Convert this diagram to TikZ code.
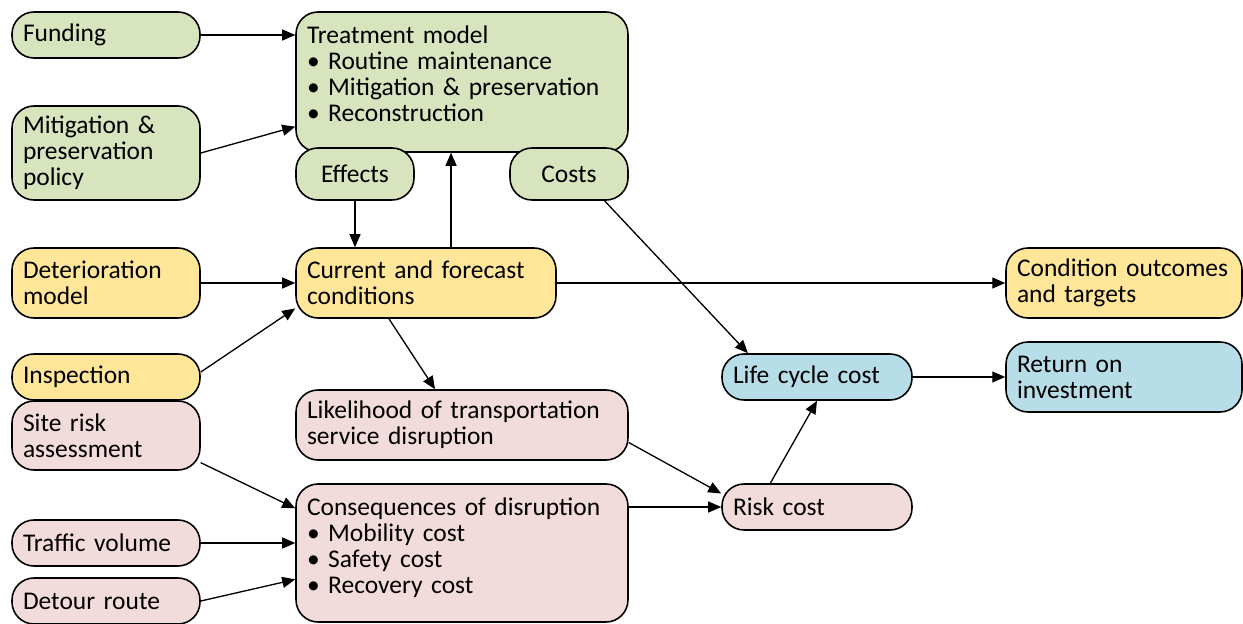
\documentclass[tikz,border=0pt]{standalone}
\usepackage{fontspec}
\setmainfont{Carlito}
\usetikzlibrary{arrows.meta,positioning}
\definecolor{boxgreen}{HTML}{D7E4BD}
\definecolor{boxyellow}{HTML}{FFE699}
\definecolor{boxpink}{HTML}{F2DCDB}
\definecolor{boxblue}{HTML}{B7DEE8}
\tikzset{box/.style={rectangle,rounded corners=0.44cm,draw,line width=0.9pt,align=left,inner xsep=0.22cm,font=\fontsize{14.5}{14.8}\selectfont},
         green box/.style={box,fill=boxgreen},
         yellow box/.style={box,fill=boxyellow},
         pink box/.style={box,fill=boxpink},
         blue box/.style={box,fill=boxblue},
         top box/.style={inner ysep=0.26cm,text height=0.36cm,text depth=#1},
         link/.style={->,line width=0.75pt}
}
\begin{document}
\begin{tikzpicture}[x=0.02cm,y=-0.02cm,
>={Triangle[length=2.6mm,width=2.2mm]}]
\useasboundingbox (0,0) rectangle (1243,624);
% left column
\node[green box,text width=3.32cm,minimum height=0.92cm] (fund) at (106,35) {Funding};
\node[green box,text width=3.32cm,minimum height=1.88cm] (policy) at (106,153) {Mitigation \&\\preservation\\policy};
\node[yellow box,text width=3.32cm,minimum height=1.4cm] (deter) at (106,283) {Deterioration\\model};
\node[yellow box,text width=3.32cm,minimum height=0.92cm] (insp) at (106,377) {Inspection};
\node[pink box,text width=3.32cm,minimum height=1.38cm] (site) at (106,435.5) {Site risk\\assessment};
\node[pink box,text width=3.32cm,minimum height=0.92cm] (traffic) at (106,543) {Traffic volume};
\node[pink box,text width=3.32cm,minimum height=0.92cm] (detour) at (106,601) {Detour route};
% middle column
\node[green box,text width=6.2cm,top box=1.92cm] (treat) at (462,82) {Treatment model\\\textbullet\ Routine maintenance\\\textbullet\ Mitigation \& preservation\\\textbullet\ Reconstruction};
\node[green box,align=center,text width=1.92cm,minimum height=1.04cm] (effects) at (355,174) {Effects};
\node[green box,align=center,text width=1.92cm,minimum height=1.04cm] (costs) at (569,174) {Costs};
\node[yellow box,text width=4.76cm,minimum height=1.4cm] (cur) at (426,283) {Current and forecast\\conditions};
\node[pink box,text width=6.2cm,minimum height=1.4cm] (like) at (462,425) {Likelihood of transportation\\service disruption};
\node[pink box,text width=6.2cm,top box=1.88cm] (cons) at (462,553) {Consequences of disruption\\\textbullet\ Mobility cost\\\textbullet\ Safety cost\\\textbullet\ Recovery cost};
% right side
\node[blue box,text width=3.36cm,minimum height=0.92cm] (lcc) at (817,377) {Life cycle cost};
\node[pink box,text width=3.36cm,minimum height=0.92cm] (risk) at (817,507) {Risk cost};
\node[yellow box,text width=4.28cm,minimum height=1.4cm] (cond) at (1124,283) {Condition outcomes\\and targets};
\node[blue box,text width=4.28cm,minimum height=1.4cm] (roi) at (1124,377) {Return on\\investment};
% connectors
\draw[link] (fund.east) -- (fund.east -| treat.west);
\draw[link] (policy.east) -- (treat.195);
\draw[link] (effects.south) -- (effects.south |- cur.north);
\draw[link] (cur.55) -- (cur.55 |- treat.south);
\draw[link] (deter.east) -- (cur.west);
\draw[link] (insp.3) -- (cur.191);
\draw[link] (costs.323) -- (lcc.161);
\draw[link] (cur.east) -- (cond.west);
\draw[link] (cur.224) -- (like.127);
\draw[link] (site.344) -- (cons.165);
\draw[link] (traffic.east) -- (traffic.east -| cons.west);
\draw[link] (detour.east) -- (cons.189);
\draw[link] (like.-6) -- (risk.172);
\draw[link] (risk.west -| cons.east) -- (risk.west);
\draw[link] (risk.153) -- (lcc.south);
\draw[link] (lcc.east) -- (roi.west);
\end{tikzpicture}
\end{document}
